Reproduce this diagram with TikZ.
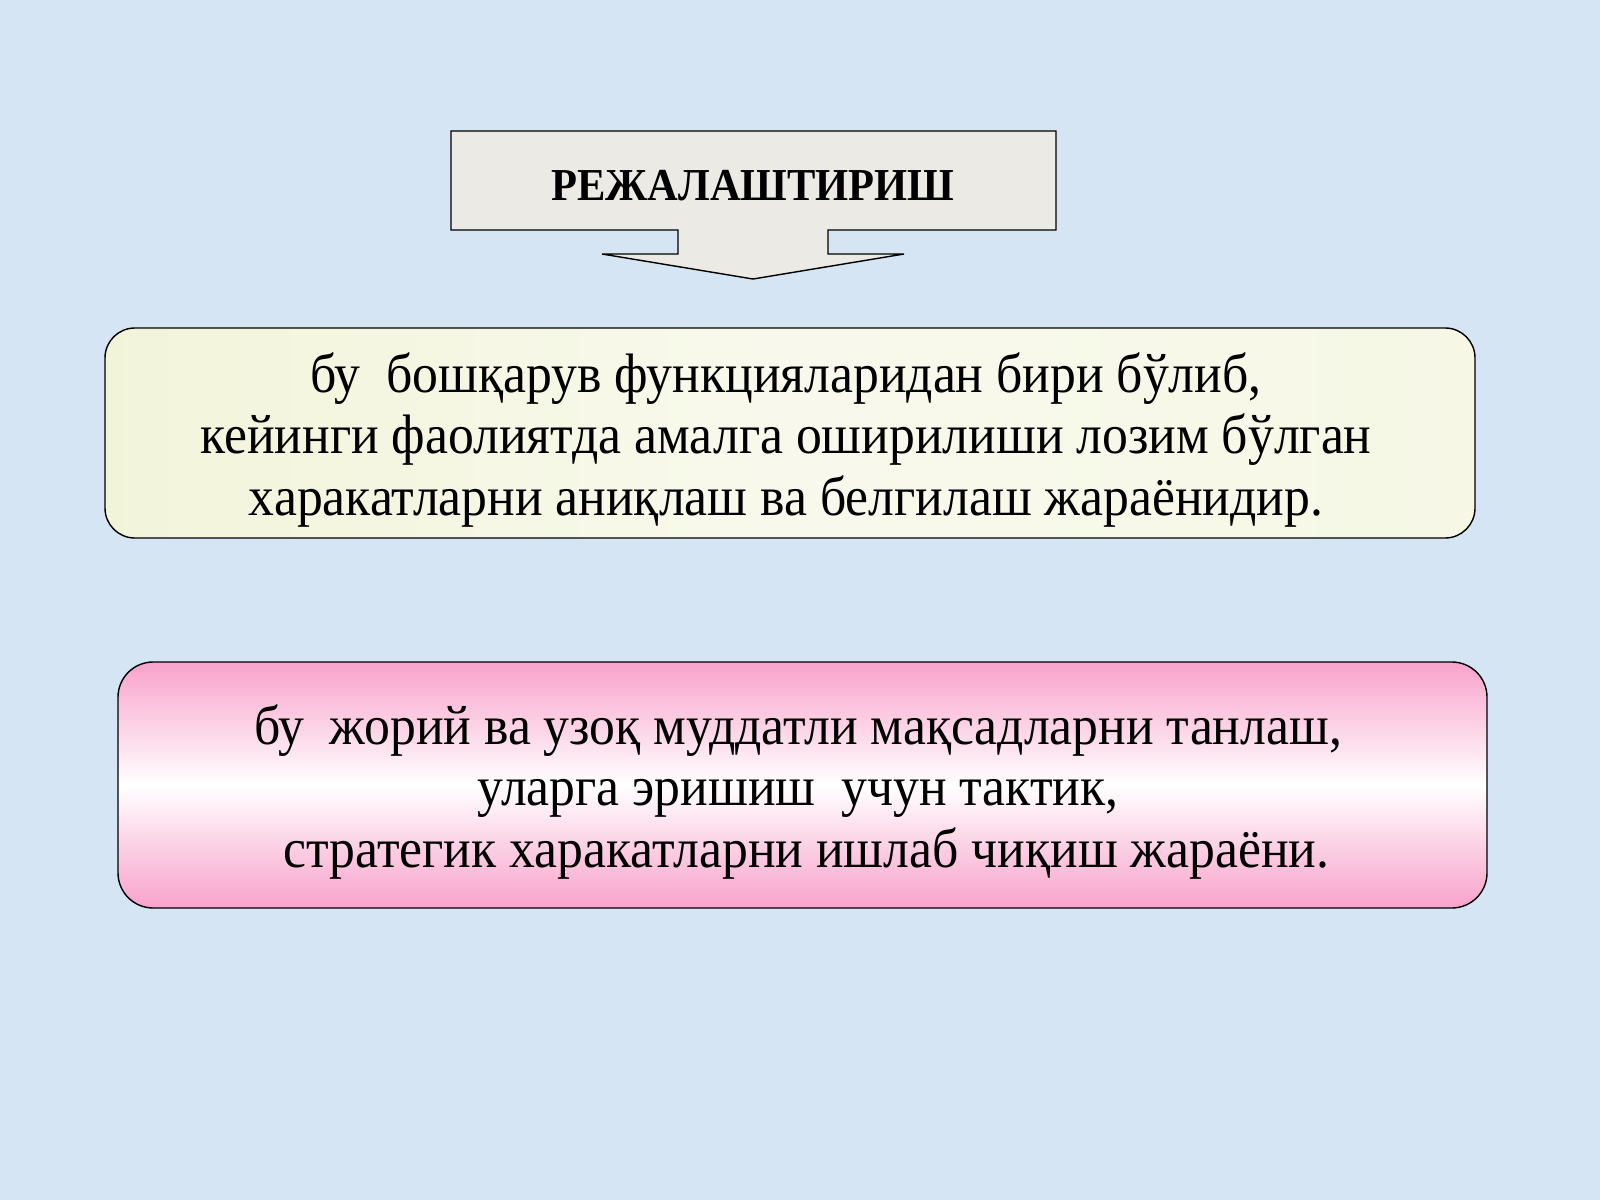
\documentclass[tikz,border=0pt]{standalone}
\usepackage{fontspec}
\setmainfont[FakeStretch=0.93]{Liberation Serif}
\usepackage{tikz}
\usetikzlibrary{calc}
\definecolor{bgblue}{HTML}{D6E5F4}
\definecolor{paper}{HTML}{ECEAE4}
\definecolor{cream}{HTML}{F2F4DA}
\definecolor{rosy}{HTML}{F8A2CB}
\tikzset{
  bodytext/.style={align=center, font=\fontsize{15.8pt}{17.5pt}\selectfont},
  headtext/.style={font=\fontsize{13pt}{15pt}\selectfont\bfseries}
}

\begin{document}
\begin{tikzpicture}[x=0.01cm, y=-0.01cm]
				%%%%% START %%%%%
				\fill[bgblue] (0, 0) rectangle (1600, 1200);
				
				% callout with its arrow
				\draw[fill=paper] (451, 131) -- (1056, 131) -- (1056, 230) -- (828, 230) -- (828, 254)
					-- (904, 254) -- (753, 279) -- (602, 254) -- (678, 254) -- (678, 230) -- (451, 230) -- cycle;
				\node[headtext] (title) at (753, 186) {РЕЖАЛАШТИРИШ};
				
				% first definition
				\draw[rounded corners=8.5pt, left color=cream, right color=cream!70!white, middle color=white!50!cream] (105, 328) rectangle (1475, 538);
				\node[bodytext] (first) at (786, 440) {бу\ \ бошқарув функцияларидан бири бўлиб,\\кейинги фаолиятда амалга оширилиши лозим бўлган\\харакатларни аниқлаш ва белгилаш жараёнидир.};
				
				% second definition
				\draw[rounded corners=10pt, top color=rosy, bottom color=rosy, middle color=white] (118, 662) rectangle (1487, 908);
				\node[bodytext] (second) at (798, 792) {бу\ \ жорий ва узоқ муддатли мақсадларни танлаш,\\уларга эришиш\ \ учун тактик,\\\hspace*{0.3em}стратегик харакатларни ишлаб чиқиш жараёни.};
				%%%%% END %%%%%
\end{tikzpicture}
\end{document}
